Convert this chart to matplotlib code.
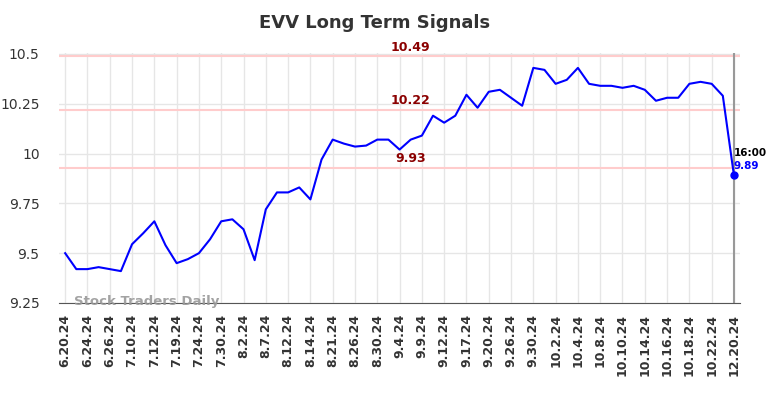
import numpy as np
import matplotlib.pyplot as plt

# Daten
tick_labels = ["6.20.24", "6.24.24", "6.26.24", "7.10.24", "7.12.24", "7.19.24",
               "7.24.24", "7.30.24", "8.2.24", "8.7.24", "8.12.24", "8.14.24",
               "8.21.24", "8.26.24", "8.30.24", "9.4.24", "9.9.24", "9.12.24",
               "9.17.24", "9.20.24", "9.26.24", "9.30.24", "10.2.24", "10.4.24",
               "10.8.24", "10.10.24", "10.14.24", "10.16.24", "10.18.24",
               "10.22.24", "12.20.24"]

prices = [9.50, 9.42, 9.42, 9.43, 9.42, 9.41, 9.545, 9.60, 9.66, 9.54,
          9.45, 9.47, 9.50, 9.57, 9.66, 9.67, 9.62, 9.465, 9.72, 9.805,
          9.805, 9.83, 9.77, 9.97, 10.07, 10.05, 10.035, 10.04, 10.07, 10.07,
          10.02, 10.07, 10.09, 10.19, 10.155, 10.19, 10.295, 10.23, 10.31, 10.32,
          10.28, 10.24, 10.43, 10.42, 10.35, 10.37, 10.43, 10.35, 10.34, 10.34,
          10.33, 10.34, 10.32, 10.265, 10.28, 10.28, 10.35, 10.36, 10.35, 10.29,
          9.89]

signal_levels = [10.49, 10.22, 9.93]
last_time = "16:00"

x = np.arange(len(prices))
tick_pos = x[::2]

fig = plt.figure(figsize=(7.84, 3.98), dpi=100)
ax = fig.add_axes([0.0753, 0.2387, 0.8687, 0.6283])

ax.grid(True, color="#e6e6e6", linewidth=1)
ax.set_axisbelow(True)

# Signal-Linien mit Beschriftung
for lvl in signal_levels:
    ax.axhline(lvl, color="#ffcccc", linewidth=1.5, zorder=1)
    ax.text(31, lvl + 0.012, f"{lvl:.2f}", color="#8b0000", fontsize=9,
            fontweight="bold", ha="center", va="bottom")

ax.axvline(x[-1], color="#999999", linewidth=1.5, zorder=2)
ax.plot(x, prices, color="blue", linewidth=1.5, zorder=3)
ax.plot(x[-1], prices[-1], "o", color="blue", markersize=5, zorder=4)
ax.text(x[-1], prices[-1] + 0.09, last_time, fontsize=7.5, fontweight="bold",
        color="black", ha="left", va="bottom")
ax.text(x[-1], prices[-1] + 0.02, f"{prices[-1]:.2f}", fontsize=7.5,
        fontweight="bold", color="blue", ha="left", va="bottom")

ax.text(0.75, 9.256, "Stock Traders Daily", fontsize=9.5, fontweight="bold",
        color="#999999", alpha=0.9, ha="left", va="center")

ax.set_xlim(-0.55, len(prices) - 0.45)
ax.set_ylim(9.25, 10.505)
ax.set_yticks([9.25, 9.5, 9.75, 10.0, 10.25, 10.5])
ax.set_yticklabels(["9.25", "9.5", "9.75", "10", "10.25", "10.5"])
ax.set_xticks(tick_pos)
ax.set_xticklabels(tick_labels, rotation=90, fontweight="bold")
ax.tick_params(axis="x", length=0, labelsize=9, colors="#333333", pad=8)
ax.tick_params(axis="y", length=0, labelsize=10, colors="#333333", pad=14)

for side in ["left", "right", "top"]:
    ax.spines[side].set_visible(False)
ax.spines["bottom"].set_color("#555555")

fig.suptitle("EVV Long Term Signals", x=0.478, y=0.965, fontsize=13,
             fontweight="bold", color="#333333")

fig.savefig("out.png", dpi=100)
